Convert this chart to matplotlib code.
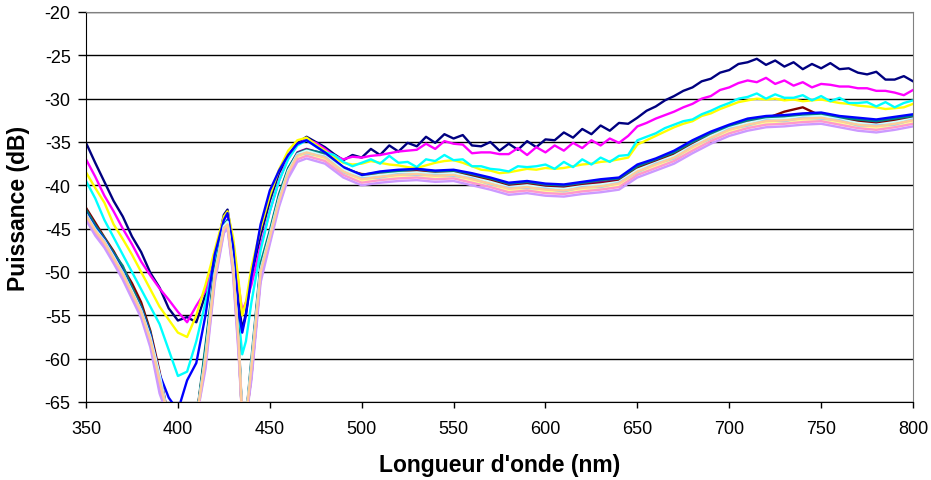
import matplotlib
matplotlib.use("Agg")
from matplotlib import pyplot as plt
import numpy as np

plt.rcParams['font.family'] = ['Liberation Sans', 'DejaVu Sans']
plt.rcParams['axes.unicode_minus'] = False

# wavelength grid (nm) for the four upper spectra
wl = [350, 355, 360, 365, 370, 375, 380, 385, 390, 395, 400, 405, 410, 415, 420, 425,
      427, 430, 433, 435, 437,
      440, 445, 450, 455, 460, 465, 470, 475, 480, 485, 490, 495, 500, 505, 510, 515,
      520, 525, 530, 535, 540, 545, 550, 555, 560, 565, 570, 575, 580, 585, 590, 595,
      600, 605, 610, 615, 620, 625, 630, 635, 640, 645, 650, 655, 660, 665, 670, 675,
      680, 685, 690, 695, 700, 705, 710, 715, 720, 725, 730, 735, 740, 745, 750, 755,
      760, 765, 770, 775, 780, 785, 790, 795, 800]

navy = [-35.1, -37.4, -39.6, -41.8, -43.6, -45.9, -47.7, -50.1, -51.8, -54.2, -55.6, -55.2,
        -55.8, -52.6, -48.4, -43.4, -42.8, -46.8, -53.5, -56.6, -54.8, -50.5, -45.8, -41.8,
        -38.6, -36.6, -35.1, -34.4, -35.0, -35.6, -36.4, -37.1, -36.5, -36.8, -35.8, -36.5,
        -35.4, -36.1, -35.1, -35.5, -34.4, -35.1, -34.1, -34.6, -34.2, -35.4, -35.5, -35.0,
        -36.0, -35.2, -35.9, -34.9, -35.6, -34.7, -34.8, -33.9, -34.5, -33.5, -34.1, -33.1,
        -33.7, -32.8, -32.9, -32.2, -31.4, -30.9, -30.2, -29.7, -29.1, -28.7, -28.0, -27.7,
        -27.0, -26.7, -26.0, -25.8, -25.4, -26.1, -25.6, -26.3, -25.8, -26.6, -26.0, -26.5,
        -25.9, -26.6, -26.5, -27.0, -27.2, -26.9, -27.8, -27.8, -27.4, -28.0]

magenta = [-37.0, -39.0, -41.2, -43.0, -45.0, -46.8, -48.8, -50.4, -51.9, -53.2, -54.6, -55.8,
           -53.9, -52.2, -48.8, -44.0, -43.3, -46.5, -51.5, -54.5, -53.5, -51.5, -47.0, -43.0,
           -39.5, -36.8, -35.3, -34.7, -35.1, -35.8, -36.6, -37.0, -36.7, -36.8, -36.6, -36.5,
           -36.3, -36.1, -36.0, -35.9, -35.2, -35.8, -34.9, -35.2, -35.3, -36.3, -36.2, -36.2,
           -36.4, -36.4, -35.7, -36.5, -35.6, -36.2, -35.4, -36.0, -35.1, -35.7, -34.8, -35.4,
           -34.6, -35.1, -34.3, -33.2, -32.8, -32.3, -31.9, -31.5, -31.0, -30.6, -30.0, -29.7,
           -29.0, -28.7, -28.2, -27.9, -28.1, -27.6, -28.3, -27.9, -28.5, -28.1, -28.7, -28.3,
           -28.4, -28.6, -28.6, -28.8, -28.8, -29.1, -29.1, -29.3, -29.6, -29.0]

yellow = [-38.5, -40.3, -42.0, -44.5, -46.2, -48.0, -50.0, -52.0, -54.0, -55.5, -57.0, -57.5,
          -55.0, -51.5, -47.5, -43.6, -43.0, -46.0, -51.0, -55.0, -53.5, -49.5, -45.0, -41.2,
          -38.2, -36.0, -34.8, -34.5, -35.3, -36.0, -36.8, -37.4, -37.6, -37.5, -37.2, -37.4,
          -37.6, -37.7, -37.9, -38.0, -37.7, -37.4, -37.2, -37.1, -37.4, -37.8, -38.2, -38.3,
          -38.6, -38.5, -38.3, -38.1, -38.2, -38.0, -38.1, -38.0, -37.8, -37.6, -37.5, -37.3,
          -37.2, -37.0, -36.8, -35.3, -34.8, -34.3, -33.8, -33.3, -32.9, -32.6, -32.0, -31.7,
          -31.2, -30.8, -30.4, -30.2, -30.0, -30.1, -30.0, -30.2, -30.1, -30.3, -30.2, -30.1,
          -30.3, -30.5, -30.6, -30.8, -30.9, -31.0, -31.2, -31.1, -31.0, -30.6]

cyan = [-39.5, -41.5, -44.0, -46.0, -48.0, -50.0, -52.0, -54.0, -56.0, -59.0, -62.0, -61.5,
        -58.0, -53.5, -48.5, -44.5, -44.0, -47.5, -55.0, -59.5, -58.0, -53.5, -47.5, -43.0,
        -39.5, -37.0, -35.4, -34.8, -35.5, -36.2, -36.5, -37.3, -37.8, -37.4, -37.0, -37.5,
        -36.6, -37.4, -37.3, -37.9, -37.0, -37.2, -36.5, -37.1, -37.0, -37.8, -37.8, -38.1,
        -38.2, -38.4, -37.8, -37.9, -37.8, -37.6, -38.1, -37.3, -37.9, -37.0, -37.6, -36.8,
        -37.3, -36.6, -36.5, -34.8, -34.4, -34.0, -33.4, -33.0, -32.6, -32.4, -31.8, -31.4,
        -30.9, -30.5, -30.0, -29.8, -29.4, -30.0, -29.5, -29.9, -29.9, -29.6, -30.2, -29.7,
        -30.3, -29.9, -30.5, -30.5, -30.4, -30.9, -30.4, -31.0, -30.5, -30.2]

# coarser grid for the twelve lower spectra
wl_lo = [350, 355, 360, 365, 370, 375, 380, 385, 390, 395, 400, 405, 410, 415, 420, 425,
         427, 430, 433, 435, 437, 440, 445, 450, 455, 460, 465, 470,
         480, 490, 500, 510, 520, 530, 540, 550, 560, 570, 580, 590, 600, 610, 620, 630,
         640, 650, 660, 670, 680, 690, 700, 710, 720, 730, 740, 750, 760, 770, 780, 790, 800]

purple = [-43.0, -44.8, -46.2, -48.0, -49.8, -52.0, -54.2, -57.2, -62.0, -67, -67, -67, -67,
          -59.5, -50.0, -44.7, -44.2, -49.0, -57.5, -67, -67, -60.5, -49.5, -45.5, -41.3,
          -38.1, -36.2, -35.8, -36.4, -38.0, -38.9, -38.6, -38.3, -38.2, -38.5, -38.4, -38.8,
          -39.3, -39.9, -39.7, -40.0, -40.1, -39.8, -39.6, -39.4, -37.9, -37.1, -36.3, -35.1,
          -34.0, -33.1, -32.5, -32.1, -32.0, -31.8, -31.7, -32.1, -32.5, -32.7, -32.4, -32.0]
maroon = [-42.6, -44.3, -46.0, -47.6, -49.5, -51.3, -53.5, -56.8, -61.5, -67, -67, -67, -67,
          -59.0, -49.8, -44.9, -44.4, -49.2, -58.5, -67, -67, -62.0, -50.5, -45.8, -41.6,
          -38.3, -36.4, -36.0, -36.5, -38.1, -38.7, -38.8, -38.5, -38.4, -38.6, -38.5, -38.9,
          -39.4, -40.1, -39.9, -40.2, -40.3, -40.0, -39.8, -39.5, -38.0, -37.3, -36.4, -35.3,
          -34.2, -33.3, -32.6, -32.3, -31.5, -31.0, -32.0, -32.2, -32.6, -32.9, -32.5, -32.2]
teal = [-42.8, -44.6, -46.1, -47.8, -49.3, -51.8, -54.0, -57.0, -62.5, -67, -67, -67, -67,
        -58.5, -49.6, -44.6, -44.0, -48.8, -57.0, -67, -67, -60.0, -49.0, -45.2, -41.0,
        -38.0, -36.3, -35.9, -36.3, -37.9, -38.8, -38.5, -38.4, -38.1, -38.4, -38.3, -38.7,
        -39.2, -39.8, -39.6, -39.9, -40.0, -39.7, -39.4, -39.2, -37.8, -37.0, -36.2, -35.0,
        -34.0, -33.2, -32.5, -32.2, -32.1, -31.9, -31.8, -32.2, -32.4, -32.6, -32.3, -32.0]
blue = [-43.2, -44.9, -46.3, -48.1, -49.9, -52.2, -54.3, -57.3, -61.8, -64.5, -66, -62.5, -60.5,
        -55.0, -48.0, -44.0, -43.2, -47.0, -54.5, -57.0, -55.0, -50.5, -44.5, -40.6, -38.3,
        -36.5, -35.2, -34.8, -36.2, -37.9, -38.8, -38.4, -38.2, -38.1, -38.3, -38.2, -38.6,
        -39.1, -39.7, -39.5, -39.8, -39.9, -39.6, -39.3, -39.1, -37.6, -36.9, -36.0, -34.8,
        -33.8, -33.0, -32.3, -32.0, -31.9, -31.7, -31.6, -32.0, -32.2, -32.4, -32.1, -31.8]
sky = [-43.4, -45.0, -46.5, -48.3, -50.0, -52.3, -54.5, -57.6, -62.0, -67, -67, -67, -67,
       -59.8, -50.3, -44.8, -44.3, -49.3, -58.2, -67, -67, -60.8, -49.8, -45.8, -41.6,
       -38.4, -36.5, -36.1, -36.7, -38.3, -39.2, -38.9, -38.7, -38.6, -38.8, -38.7, -39.2,
       -39.7, -40.3, -40.1, -40.4, -40.5, -40.2, -40.0, -39.7, -38.3, -37.5, -36.7, -35.5,
       -34.4, -33.5, -32.9, -32.5, -32.4, -32.2, -32.1, -32.5, -32.9, -33.1, -32.8, -32.4]
turquoise = [-43.3, -45.1, -46.4, -48.2, -50.1, -52.2, -54.4, -57.5, -61.8, -67, -67, -67, -67,
             -59.6, -50.2, -44.7, -44.2, -49.1, -58.0, -67, -67, -60.6, -49.7, -45.7, -41.5,
             -38.3, -36.4, -36.0, -36.6, -38.2, -39.1, -38.8, -38.6, -38.5, -38.7, -38.6, -39.1,
             -39.6, -40.2, -40.0, -40.3, -40.4, -40.1, -39.9, -39.6, -38.2, -37.4, -36.6, -35.4,
             -34.3, -33.4, -32.8, -32.4, -32.3, -32.1, -32.0, -32.4, -32.8, -33.0, -32.7, -32.3]
lgreen = [-43.6, -45.3, -46.7, -48.5, -50.3, -52.5, -54.7, -57.9, -62.8, -67, -67, -67, -67,
          -60.2, -50.7, -45.1, -44.6, -49.6, -58.3, -67, -67, -61.2, -50.2, -46.1, -41.9,
          -38.6, -36.7, -36.3, -36.9, -38.5, -39.4, -39.1, -38.9, -38.8, -39.0, -38.9, -39.4,
          -39.9, -40.5, -40.3, -40.6, -40.7, -40.4, -40.2, -39.9, -38.5, -37.7, -36.9, -35.7,
          -34.6, -33.7, -33.1, -32.7, -32.6, -32.4, -32.3, -32.7, -33.1, -33.3, -33.0, -32.6]
lyellow = [-43.7, -45.4, -46.8, -48.6, -50.4, -52.6, -54.8, -58.0, -63.0, -67, -67, -67, -67,
           -60.4, -50.8, -45.2, -44.7, -49.7, -58.5, -67, -67, -61.4, -50.4, -46.2, -42.0,
           -38.7, -36.8, -36.4, -37.0, -38.6, -39.5, -39.2, -39.0, -38.9, -39.1, -39.0, -39.5,
           -40.0, -40.6, -40.4, -40.7, -40.8, -40.5, -40.3, -40.0, -38.6, -37.8, -37.0, -35.8,
           -34.7, -33.8, -33.2, -32.8, -32.7, -32.5, -32.4, -32.8, -33.2, -33.4, -33.1, -32.7]
paleblue = [-43.4, -45.3, -46.5, -48.5, -50.1, -52.5, -54.5, -57.9, -62.3, -67, -67, -67, -67,
            -59.9, -50.6, -44.9, -44.6, -49.4, -58.1, -67, -67, -61.1, -49.9, -46.1, -41.7,
            -38.6, -36.5, -36.3, -36.7, -38.5, -39.2, -39.1, -38.7, -38.8, -38.8, -38.9, -39.2,
            -39.9, -40.3, -40.3, -40.4, -40.7, -40.2, -40.2, -39.7, -38.5, -37.5, -36.9, -35.5,
            -34.6, -33.5, -33.1, -32.5, -32.6, -32.2, -32.3, -32.5, -33.1, -33.1, -33.0, -32.4]
rose = [-43.8, -45.5, -46.9, -48.7, -50.6, -52.8, -55.0, -58.3, -63.5, -67, -67, -67, -67,
        -60.8, -51.0, -45.3, -44.8, -50.0, -59.0, -67, -67, -62.0, -50.8, -46.5, -42.2,
        -38.9, -37.0, -36.6, -37.2, -38.8, -39.7, -39.4, -39.2, -39.1, -39.3, -39.2, -39.7,
        -40.2, -40.8, -40.6, -40.9, -41.0, -40.7, -40.5, -40.2, -38.8, -38.0, -37.2, -36.0,
        -34.9, -34.0, -33.4, -33.0, -32.9, -32.7, -32.6, -33.0, -33.4, -33.6, -33.3, -32.9]
lavender = [-44.0, -45.8, -47.2, -49.0, -50.9, -53.1, -55.3, -58.7, -64.0, -67, -67, -67, -67,
            -61.2, -51.3, -45.5, -45.0, -50.3, -59.5, -67, -67, -62.5, -51.2, -46.8, -42.5,
            -39.2, -37.3, -36.9, -37.5, -39.1, -40.0, -39.7, -39.5, -39.4, -39.6, -39.5, -40.0,
            -40.5, -41.1, -40.9, -41.2, -41.3, -41.0, -40.8, -40.5, -39.1, -38.3, -37.5, -36.3,
            -35.2, -34.3, -33.7, -33.3, -33.2, -33.0, -32.9, -33.3, -33.7, -33.9, -33.6, -33.2]
tan = [-43.5, -45.2, -46.6, -48.4, -50.2, -52.4, -54.6, -57.8, -62.5, -67, -67, -67, -67,
       -60.0, -50.5, -45.0, -44.5, -49.5, -58.0, -67, -67, -61.0, -50.0, -46.0, -41.8,
       -38.5, -36.6, -36.2, -36.8, -38.4, -39.3, -39.0, -38.8, -38.7, -38.9, -38.8, -39.3,
       -39.8, -40.4, -40.2, -40.5, -40.6, -40.3, -40.1, -39.8, -38.4, -37.6, -36.8, -35.6,
       -34.5, -33.6, -33.0, -32.6, -32.5, -32.3, -32.2, -32.6, -33.0, -33.2, -32.9, -32.5]

upper = [(navy, '#000080'), (magenta, '#FF00FF'), (yellow, '#FFFF00'), (cyan, '#00FFFF')]
lower = [(purple, '#800080'), (maroon, '#800000'), (teal, '#008080'), (blue, '#0000FF'),
         (sky, '#00CCFF'), (turquoise, '#CCFFFF'), (lgreen, '#CCFFCC'), (lyellow, '#FFFF99'),
         (paleblue, '#99CCFF'), (rose, '#FF99CC'), (lavender, '#CC99FF'), (tan, '#FFCC99')]

fig = plt.figure(figsize=(9.31, 4.81), dpi=100)
ax = fig.add_axes([0.0924, 0.1622, 0.8883, 0.8108])

for vals, col in upper:
    ax.plot(wl, vals, color=col, linewidth=1.7)
for vals, col in lower:
    ax.plot(wl_lo, vals, color=col, linewidth=1.7)

ax.set_xlim(350, 800)
ax.set_ylim(-65, -20)
ax.set_xticks(np.arange(350, 801, 50))
ax.set_yticks(np.arange(-65, -19, 5))
ax.yaxis.grid(True, color='black', linewidth=1)
ax.set_axisbelow(True)

for s in ['top', 'right']:
    ax.spines[s].set_color('#808080')
for s in ['left', 'bottom']:
    ax.spines[s].set_color('black')
ax.tick_params(axis='y', direction='out', length=6, width=1, labelsize=13, pad=5)
ax.tick_params(axis='x', direction='out', length=4, width=1, labelsize=13, pad=9)

ax.set_xlabel("Longueur d'onde (nm)", fontsize=16.5, fontweight='bold')
ax.set_ylabel("Puissance (dB)", fontsize=16.5, fontweight='bold')
ax.xaxis.set_label_coords(0.5, -0.13)
ax.yaxis.set_label_coords(-0.068, 0.5)

fig.savefig("out.png", dpi=100)
